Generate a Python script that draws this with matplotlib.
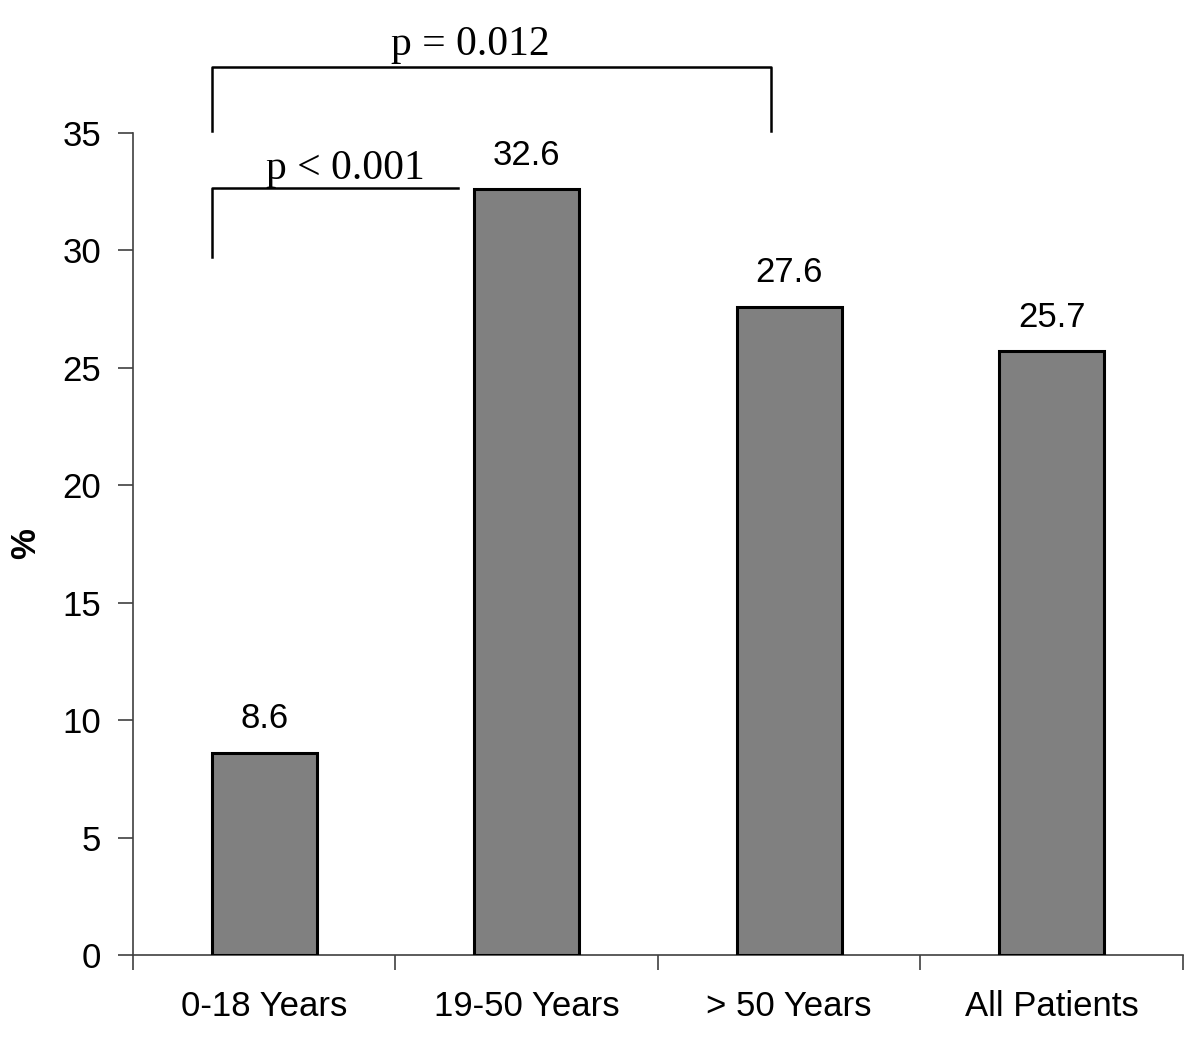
import matplotlib
matplotlib.use("Agg")
import matplotlib.pyplot as plt
import numpy as np

categories = ["0-18 Years", "19-50 Years", "> 50 Years", "All Patients"]
values = [8.6, 32.6, 27.6, 25.7]
value_labels = ["8.6", "32.6", "27.6", "25.7"]
yticks = [0, 5, 10, 15, 20, 25, 30, 35]
p_texts = ["p < 0.001", "p = 0.012"]

plt.rcParams['font.family'] = ['Liberation Sans', 'DejaVu Sans']

fig = plt.figure(figsize=(12, 10.42), dpi=100)
ax = fig.add_axes([0.1108, 0.0835, 0.8750, 0.7889])

x = np.arange(len(categories))
bw = 0.4
ax.bar(x, values, width=bw, color="#808080", edgecolor="black", linewidth=2.2, zorder=3)

fs = 25
for xi, v, lab in zip(x, values, value_labels):
    ax.text(xi, v + 1.05, lab, ha="center", va="baseline", fontsize=fs)

ax.set_xlim(-0.5, len(categories) - 0.5)
ax.set_ylim(0, 35)
ax.set_yticks(yticks)
ax.set_yticklabels([str(t) for t in yticks], fontsize=fs)
ax.set_xticks(x)
ax.set_xticklabels(categories, fontsize=fs)
ax.tick_params(axis="x", which="major", length=0, pad=25.5)
ax.set_xticks(np.arange(-0.5, len(categories)), minor=True)
ax.tick_params(axis="x", which="minor", length=11, width=1.2, color="#404040")
ax.tick_params(axis="y", length=11, width=1.2, color="#404040", pad=12)

for s in ["top", "right"]:
    ax.spines[s].set_visible(False)
for s in ["left", "bottom"]:
    ax.spines[s].set_color("#404040")
    ax.spines[s].set_linewidth(1.2)

ax.set_ylabel("%", fontsize=fs, fontweight="bold")
ax.yaxis.set_label_coords(-0.0867, 0.5)

# significance brackets
lw = 1.8
left = x[0] - bw / 2
ax.plot([left, left, 0.738], [29.7, 32.65, 32.65], color="black", lw=lw, clip_on=False, zorder=4)
ax.text(0.311, 33.03, p_texts[0], ha="center", va="baseline",
        fontsize=30, family="Liberation Serif")

right2 = 1.93
ax.plot([left, left, right2, right2], [35.1, 37.8, 37.8, 35.1], color="black", lw=lw,
        clip_on=False, zorder=4)
ax.text(0.784, 38.3, p_texts[1], ha="center", va="baseline",
        fontsize=30, family="Liberation Serif")

fig.savefig("out.png", dpi=100)
